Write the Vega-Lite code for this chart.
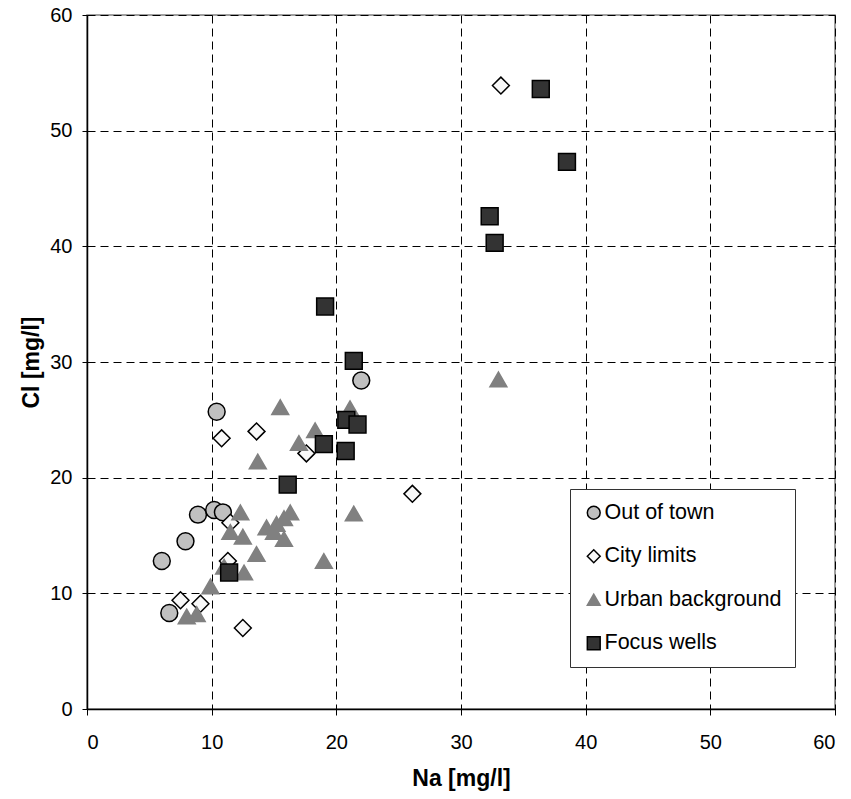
{
  "$schema": "https://vega.github.io/schema/vega-lite/v6.json",
  "width": 748,
  "height": 694,
  "autosize": {"type": "none"},
  "padding": {"left": 87, "top": 15, "right": 16, "bottom": 90},
  "background": "white",
  "config": {
    "font": "Liberation Sans",
    "view": {"stroke": "#808080", "strokeWidth": 1.5},
    "axis": {
      "labelFont": "Liberation Sans",
      "labelFontSize": 20,
      "labelColor": "black",
      "titleFont": "Liberation Sans",
      "titleFontSize": 23,
      "titleFontWeight": "bold",
      "titleColor": "black",
      "domainColor": "black",
      "domainWidth": 1.5,
      "tickColor": "black",
      "tickWidth": 1,
      "grid": true,
      "gridColor": "black",
      "gridOpacity": 1,
      "gridWidth": 1,
      "gridDash": [8, 5]
    },
    "legend": {
      "labelFont": "Liberation Sans",
      "labelFontSize": 21.5,
      "labelColor": "black",
      "labelLimit": 400
    }
  },
  "data": {
    "values": [
      {"series": "Out of town", "na": 6.0, "cl": 12.8},
      {"series": "Out of town", "na": 6.6, "cl": 8.3},
      {"series": "Out of town", "na": 7.9, "cl": 14.5},
      {"series": "Out of town", "na": 8.9, "cl": 16.8},
      {"series": "Out of town", "na": 10.2, "cl": 17.2},
      {"series": "Out of town", "na": 10.9, "cl": 17.0},
      {"series": "Out of town", "na": 10.4, "cl": 25.7},
      {"series": "Out of town", "na": 22.0, "cl": 28.4},
      {"series": "City limits", "na": 7.5, "cl": 9.4},
      {"series": "City limits", "na": 9.1, "cl": 9.1},
      {"series": "City limits", "na": 10.8, "cl": 23.4},
      {"series": "City limits", "na": 11.3, "cl": 12.8},
      {"series": "City limits", "na": 11.5, "cl": 16.1},
      {"series": "City limits", "na": 12.5, "cl": 7.0},
      {"series": "City limits", "na": 13.6, "cl": 24.0},
      {"series": "City limits", "na": 17.6, "cl": 22.1},
      {"series": "City limits", "na": 26.1, "cl": 18.6},
      {"series": "City limits", "na": 33.2, "cl": 53.9},
      {"series": "Urban background", "na": 8.0, "cl": 8.0},
      {"series": "Urban background", "na": 8.8, "cl": 8.2},
      {"series": "Urban background", "na": 9.9, "cl": 10.6},
      {"series": "Urban background", "na": 11.0, "cl": 12.3},
      {"series": "Urban background", "na": 11.5, "cl": 15.3},
      {"series": "Urban background", "na": 12.3, "cl": 17.0},
      {"series": "Urban background", "na": 12.5, "cl": 14.9},
      {"series": "Urban background", "na": 12.6, "cl": 11.8},
      {"series": "Urban background", "na": 13.6, "cl": 13.4},
      {"series": "Urban background", "na": 13.7, "cl": 21.4},
      {"series": "Urban background", "na": 14.4, "cl": 15.7},
      {"series": "Urban background", "na": 15.0, "cl": 15.3},
      {"series": "Urban background", "na": 15.2, "cl": 16.0},
      {"series": "Urban background", "na": 15.5, "cl": 26.1},
      {"series": "Urban background", "na": 15.8, "cl": 16.5},
      {"series": "Urban background", "na": 15.8, "cl": 14.7},
      {"series": "Urban background", "na": 16.3, "cl": 17.0},
      {"series": "Urban background", "na": 17.0, "cl": 23.0},
      {"series": "Urban background", "na": 18.3, "cl": 24.1},
      {"series": "Urban background", "na": 19.0, "cl": 12.8},
      {"series": "Urban background", "na": 21.1, "cl": 26.0},
      {"series": "Urban background", "na": 21.4, "cl": 16.9},
      {"series": "Urban background", "na": 33.0, "cl": 28.5},
      {"series": "Focus wells", "na": 11.4, "cl": 11.8},
      {"series": "Focus wells", "na": 16.1, "cl": 19.4},
      {"series": "Focus wells", "na": 19.0, "cl": 22.9},
      {"series": "Focus wells", "na": 19.1, "cl": 34.8},
      {"series": "Focus wells", "na": 20.75, "cl": 22.3},
      {"series": "Focus wells", "na": 20.8, "cl": 25.0},
      {"series": "Focus wells", "na": 21.4, "cl": 30.1},
      {"series": "Focus wells", "na": 21.7, "cl": 24.6},
      {"series": "Focus wells", "na": 32.3, "cl": 42.6},
      {"series": "Focus wells", "na": 32.7, "cl": 40.3},
      {"series": "Focus wells", "na": 36.4, "cl": 53.6},
      {"series": "Focus wells", "na": 38.5, "cl": 47.3}
    ]
  },
  "mark": {"type": "point", "filled": false, "opacity": 1, "strokeWidth": 1.5, "size": 285},
  "encoding": {
    "x": {
      "field": "na", "type": "quantitative",
      "scale": {"domain": [0, 60], "nice": false},
      "axis": {"values": [0, 10, 20, 30, 40, 50, 60], "title": "Na [mg/l]", "tickSize": 6, "labelPadding": 17, "titlePadding": 15}
    },
    "y": {
      "field": "cl", "type": "quantitative",
      "scale": {"domain": [0, 60], "nice": false},
      "axis": {"values": [0, 10, 20, 30, 40, 50, 60], "title": "Cl [mg/l]", "tickSize": 5, "labelPadding": 10, "titlePadding": 6}
    },
    "shape": {
      "field": "series", "type": "nominal",
      "scale": {"domain": ["Out of town", "City limits", "Urban background", "Focus wells"], "range": ["circle", "diamond", "triangle-up", "square"]},
      "legend": {
        "title": null, "orient": "none", "legendX": 483, "legendY": 474,
        "strokeColor": "#333333", "fillColor": "white", "padding": 13,
        "rowPadding": 20.5, "symbolSize": 165, "symbolStrokeWidth": 1.5, "labelOffset": 0
      }
    },
    "fill": {
      "field": "series", "type": "nominal",
      "scale": {"domain": ["Out of town", "City limits", "Urban background", "Focus wells"], "range": ["#C0C0C0", "#F8F8F8", "#808080", "#333333"]},
      "legend": {
        "title": null, "orient": "none", "legendX": 483, "legendY": 474,
        "strokeColor": "#333333", "fillColor": "white", "padding": 13,
        "rowPadding": 20.5, "symbolSize": 165, "symbolStrokeWidth": 1.5, "labelOffset": 0
      }
    },
    "stroke": {
      "field": "series", "type": "nominal",
      "scale": {"domain": ["Out of town", "City limits", "Urban background", "Focus wells"], "range": ["#000000", "#000000", "#808080", "#000000"]},
      "legend": {
        "title": null, "orient": "none", "legendX": 483, "legendY": 474,
        "strokeColor": "#333333", "fillColor": "white", "padding": 13,
        "rowPadding": 20.5, "symbolSize": 165, "symbolStrokeWidth": 1.5, "labelOffset": 0
      }
    }
  }
}
